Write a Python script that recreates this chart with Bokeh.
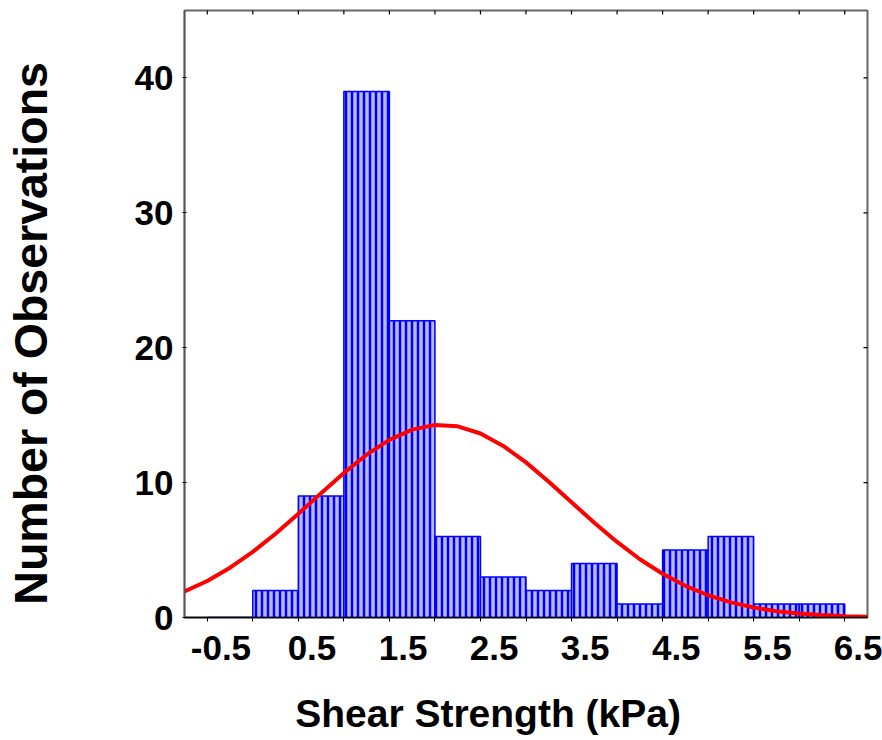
import math
from bokeh.plotting import figure
from bokeh.models import FixedTicker, Range1d
from bokeh.embed import file_html
from bokeh.resources import INLINE

# Histogram bins (kPa) and counts
bin_left = [-0.65, -0.15, 0.35, 0.85, 1.35, 1.85, 2.35, 2.85, 3.35, 3.85, 4.35, 4.85, 5.35, 5.85]
bin_right = [-0.15, 0.35, 0.85, 1.35, 1.85, 2.35, 2.85, 3.35, 3.85, 4.35, 4.85, 5.35, 5.85, 6.35]
counts = [0, 2, 9, 39, 22, 6, 3, 2, 4, 1, 5, 6, 1, 1]

# Tick labels / tick marks
x_tick_labels = [-0.5, 0.5, 1.5, 2.5, 3.5, 4.5, 5.5, 6.5]
x_tick_marks = [-0.65, -0.15, 0.35, 0.85, 1.35, 1.85, 2.35, 2.85, 3.35, 3.85, 4.35, 4.85, 5.35, 5.85, 6.35]
y_ticks = [0, 10, 20, 30, 40]

# Axis titles
x_title = "Shear Strength (kPa)"
y_title = "Number of Observations"

# Fitted normal curve
curve_x = [-0.9, -0.65, -0.4, -0.15, 0.1, 0.35, 0.6, 0.85, 1.1, 1.35, 1.6, 1.85, 2.1, 2.35,
           2.6, 2.85, 3.1, 3.35, 3.6, 3.85, 4.1, 4.35, 4.6, 4.85, 5.1, 5.35, 5.6, 5.85, 6.1, 6.35, 6.6]
curve_y = [1.93, 2.71, 3.69, 4.87, 6.21, 7.69, 9.22, 10.72, 12.07, 13.17, 13.93, 14.27, 14.17, 13.64,
           12.72, 11.50, 10.07, 8.54, 7.03, 5.60, 4.32, 3.24, 2.35, 1.65, 1.12, 0.74, 0.47, 0.29, 0.18, 0.10, 0.06]

FONT = "Liberation Sans"
NBSP = "\u00a0"

x_lo, x_hi = -0.9, 6.6
y_lo, y_hi = 0, 45

p = figure(width=882, height=740,
           x_range=Range1d(x_lo, x_hi), y_range=Range1d(y_lo, y_hi),
           output_backend="svg", toolbar_location=None,
           min_border_left=184, min_border_right=15, min_border_top=10, min_border_bottom=123,
           background_fill_color="white", border_fill_color="white")

p.xgrid.visible = False
p.ygrid.visible = False
p.outline_line_color = "#666666"
p.outline_line_width = 2

# bars
p.quad(left=bin_left, right=bin_right, bottom=0, top=counts,
       fill_color="#b8b8ff", line_color="#0000ff", line_width=1.5,
       hatch_pattern="vertical_line", hatch_color="#0000ff",
       hatch_scale=6, hatch_weight=2.5)

# normal curve
p.line(curve_x, curve_y, line_color="#ff0000", line_width=4)

# top and right tick marks (inside the frame)
p.scatter(x=x_tick_marks, y=[y_hi] * len(x_tick_marks), marker="dash", size=8,
          angle=math.pi / 2, line_color="black", line_width=1.2)
p.scatter(x=[x_hi] * len(y_ticks), y=y_ticks, marker="dash", size=8,
          line_color="black", line_width=1.2)

# bottom axis
xa = p.xaxis[0]
xa.ticker = FixedTicker(ticks=x_tick_labels, minor_ticks=x_tick_marks)
xa.major_label_overrides = {-0.5: "-0.5"}
xa.major_tick_out = 0
xa.major_tick_in = 0
xa.minor_tick_out = 4
xa.minor_tick_in = 0
xa.minor_tick_line_color = "black"
xa.axis_line_color = "black"
xa.axis_line_width = 1.5
xa.major_label_text_font = FONT
xa.major_label_text_font_style = "bold"
xa.major_label_text_font_size = "35px"
xa.major_label_text_color = "black"
xa.major_label_standoff = 14
xa.axis_label = x_title + NBSP * 7
xa.axis_label_text_font = FONT
xa.axis_label_text_font_style = "bold"
xa.axis_label_text_font_size = "39px"
xa.axis_label_text_color = "black"
xa.axis_label_standoff = 29

# left axis
ya = p.yaxis[0]
ya.ticker = FixedTicker(ticks=y_ticks)
ya.major_tick_out = 2
ya.major_tick_in = 2
ya.minor_tick_out = 0
ya.minor_tick_in = 0
ya.axis_line_color = "#555555"
ya.axis_line_width = 1.5
ya.major_label_text_font = FONT
ya.major_label_text_font_style = "bold"
ya.major_label_text_font_size = "35px"
ya.major_label_text_color = "black"
ya.major_label_standoff = 9
ya.axis_label = y_title + NBSP * 3
ya.axis_label_text_font = FONT
ya.axis_label_text_font_style = "bold"
ya.axis_label_text_font_size = "46.5px"
ya.axis_label_text_color = "black"
ya.axis_label_standoff = 75

open("out.html", "w").write(file_html(p, INLINE))
